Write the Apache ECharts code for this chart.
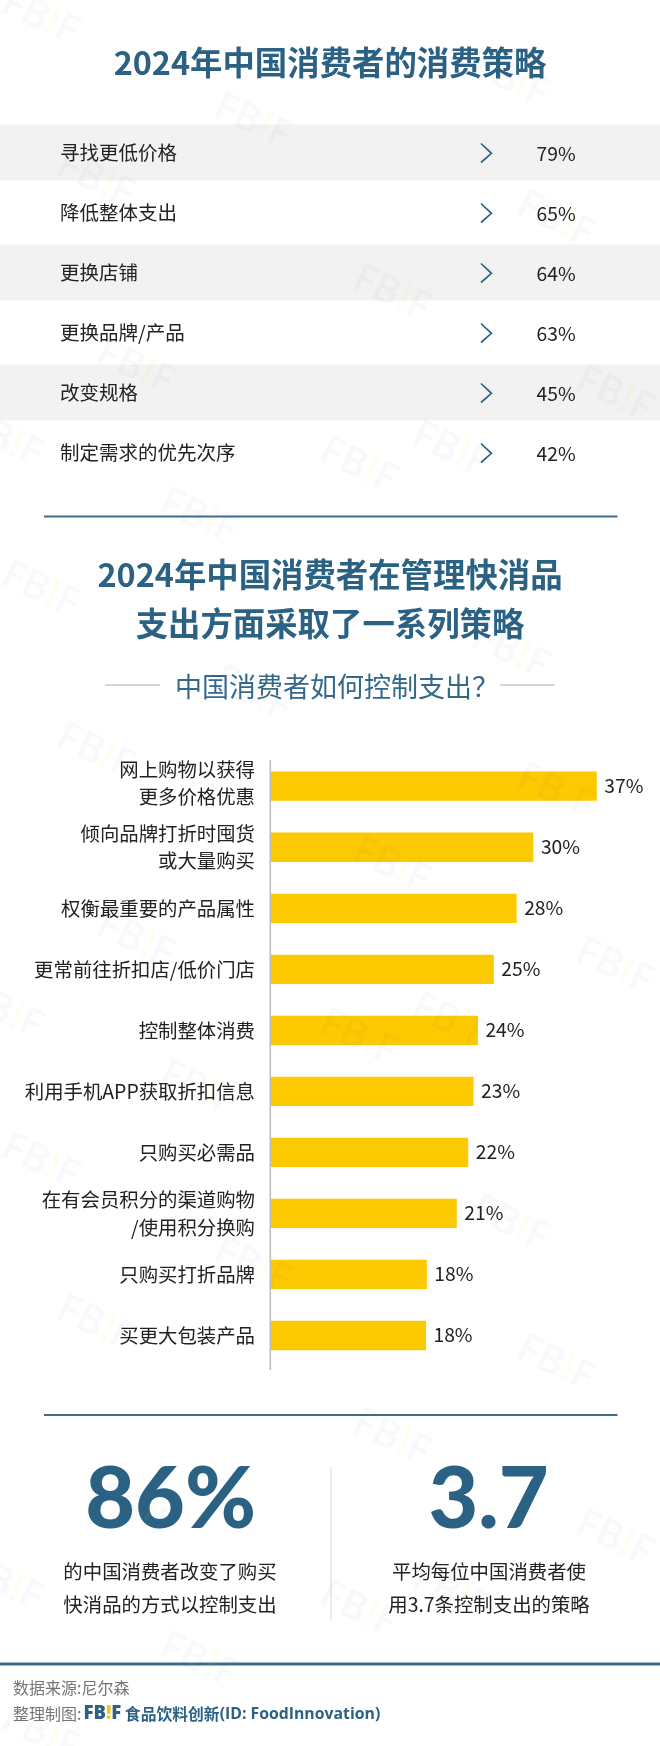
<!DOCTYPE html>
<html><head><meta charset="utf-8">
<style>html,body{margin:0;padding:0;background:#fff}#c{width:660px;height:1746px}</style>
<script src="https://cdn.jsdelivr.net/npm/echarts@6/dist/echarts.min.js"></script>
</head><body><div id="c"></div>
<script>
const rowLabels = ['寻找更低价格','降低整体支出','更换店铺','更换品牌/产品','改变规格','制定需求的优先次序'];
const rowValues = [79,65,64,63,45,42];
const rowBands = [1,0,1,0,1,0];
const barCategories = ['网上购物以获得\n更多价格优惠','倾向品牌打折时囤货\n或大量购买','权衡最重要的产品属性','更常前往折扣店/低价门店','控制整体消费','利用手机APP获取折扣信息','只购买必需品','在有会员积分的渠道购物\n/使用积分换购','只购买打折品牌','买更大包装产品'];
const barLengths = [37,29.8,27.9,25.3,23.5,23,22.4,21.1,17.7,17.6];
const barLabels = ['37%','30%','28%','25%','24%','23%','22%','21%','18%','18%'];
const statA = '86%';
const statAText = '的中国消费者改变了购买\n快消品的方式以控制支出';
const statB = '3.7';
const statBText = '平均每位中国消费者使\n用3.7条控制支出的策略';

const CJK = '"Noto Sans CJK SC","Noto Sans",sans-serif';
const BLUE = '#2b6284', INK = '#222222', BAR = '#fdc900';
const chart = echarts.init(document.getElementById('c'), null, {width:660,height:1746});

function txt(text,x,y,size,color,weight,align,extra){
  return Object.assign({type:'text',x,y,silent:true,style:{text,fontFamily:CJK,fontSize:size,fill:color,fontWeight:weight||400,align:align||'center',verticalAlign:'middle'}},extra||{});
}
function rule(x1,y1,x2,y2,color,w){
  return {type:'line',silent:true,shape:{x1,y1,x2,y2},style:{stroke:color,lineWidth:w}};
}
const tile=[[40,18],[252,122],[95,180],[555,220],[510,80],[391,294],[135,368],[614,395],[450,450],[358,466],[198,517],[4,440]];
const marks=[];
for(let k=0;k<4;k++){ for(const p of tile){
  marks.push({type:'text',x:p[0],y:p[1]+k*572,rotation:-0.44,z:50,silent:true,style:{
    text:'{a|FB}{b|!}{a|F}',align:'center',verticalAlign:'middle',
    rich:{a:{fontFamily:'"Open Sans",sans-serif',fontWeight:600,fontSize:40,fill:'rgba(43,98,132,0.035)'},b:{fontFamily:'"Open Sans",sans-serif',fontWeight:600,fontSize:40,fill:'rgba(253,201,0,0.06)'}}}});
}}

const option={
  backgroundColor:'#ffffff',animation:false,
  grid:[{left:0,top:122.5,width:660,height:360},{left:271,top:755.7,width:352.2,height:610.3}],
  xAxis:[{gridIndex:0,type:'value',min:0,max:1,show:false},
         {gridIndex:1,type:'value',min:0,max:40,show:false}],
  yAxis:[{gridIndex:0,type:'category',inverse:true,data:rowLabels,z:5,axisLine:{show:false},axisTick:{show:false},
          axisLabel:{inside:true,margin:60,color:INK,fontFamily:CJK,fontSize:19.5}},
         {gridIndex:1,type:'category',inverse:true,data:barCategories,axisLine:{show:false},axisTick:{show:false},
          axisLabel:{margin:16,color:INK,fontFamily:CJK,fontSize:19.4,lineHeight:27.5,align:'right',
            rich:{g:{fontSize:1,lineHeight:6.5}},
            formatter:(v,i)=>i===0?v+'\n{g| }':v}}],
  series:[
    {type:'bar',xAxisIndex:0,yAxisIndex:0,data:rowBands.map(v=>v||null),barWidth:56,itemStyle:{color:'#f2f2f2'},silent:true,z:1},
    {type:'custom',xAxisIndex:0,yAxisIndex:0,silent:true,z:3,data:rowValues.map((v,i)=>[0,i,v]),encode:{x:0,y:1},
     renderItem(params,api){
       const y=api.coord([0,api.value(1)])[1];
       return {type:'group',children:[
         {type:'polyline',shape:{points:[[481,y-9],[491.4,y+0.8],[481,y+10]]},style:{stroke:BLUE,lineWidth:1.7,fill:null}},
         {type:'text',style:{x:536.5,y:y+0.8,text:api.value(2)+'%',fontFamily:CJK,fontSize:19.3,fill:INK,align:'left',verticalAlign:'middle'}}
       ]};
     }},
    {type:'bar',xAxisIndex:1,yAxisIndex:1,data:barLengths,barWidth:29.3,itemStyle:{color:BAR},silent:true,z:2,
     label:{show:true,position:'right',distance:7.5,offset:[0,-1],color:INK,fontFamily:CJK,fontSize:19.3,
            formatter:p=>barLabels[p.dataIndex]}}
  ],
  graphic:{elements:[
    ...marks,
    txt('2024年中国消费者的消费策略',330,63,32.4,BLUE,700),
    rule(44,516.5,617.5,516.5,'#3f6d88',2),
    txt('2024年中国消费者在管理快消品',330,575,32.4,BLUE,700),
    txt('支出方面采取了一系列策略',330,624,32.4,BLUE,700),
    txt('中国消费者如何控制支出？',337,686.5,27,'#35698a',400),
    rule(105,685,160,685,'#9fb4c2',1.2),
    rule(500,685,555,685,'#9fb4c2',1.2),
    rule(270.3,760,270.3,1370,'#bdbdbd',1.6),
    rule(44,1415,617.5,1415,'#3f6d88',2),
    {type:'text',x:170.6,y:1500.5,silent:true,style:{text:statA,fontFamily:'Lato,sans-serif',fontWeight:900,fontSize:86,fill:BLUE,align:'center',verticalAlign:'middle'}},
    {type:'text',x:488.6,y:1500.5,silent:true,style:{text:statB,fontFamily:'Lato,sans-serif',fontWeight:900,fontSize:86,fill:BLUE,align:'center',verticalAlign:'middle'}},
    rule(330.8,1466,330.8,1621,'#e6e9eb',1.5),
    {type:'text',x:170,y:1588,silent:true,style:{text:statAText,fontFamily:CJK,fontSize:19.4,lineHeight:33.5,fill:INK,align:'center',verticalAlign:'middle'}},
    {type:'text',x:489,y:1588,silent:true,style:{text:statBText,fontFamily:CJK,fontSize:19.4,lineHeight:33.5,fill:INK,align:'center',verticalAlign:'middle'}},
    rule(0,1664,660,1664,'#3f6d88',3),
    txt('数据来源:尼尔森',13,1687.5,16,'#757575',400,'left'),
    txt('整理制图:',13,1714,16,'#757575',400,'left'),
    {type:'text',x:83.5,y:1714,silent:true,style:{text:'{a|FB}{b|!}{a|F}{c| 食品饮料创新}{d|(ID: FoodInnovation)}',verticalAlign:'middle',align:'left',
      rich:{a:{fontFamily:'"Open Sans",sans-serif',fontWeight:800,fontSize:18.5,fill:BLUE},b:{fontFamily:'"Open Sans",sans-serif',fontWeight:800,fontSize:18.5,fill:BAR},
            c:{fontFamily:CJK,fontWeight:700,fontSize:15.8,fill:BLUE},d:{fontFamily:'"Open Sans",sans-serif',fontWeight:700,fontSize:15.8,fill:BLUE}}}}
  ]}
};
chart.setOption(option);
</script></body></html>
